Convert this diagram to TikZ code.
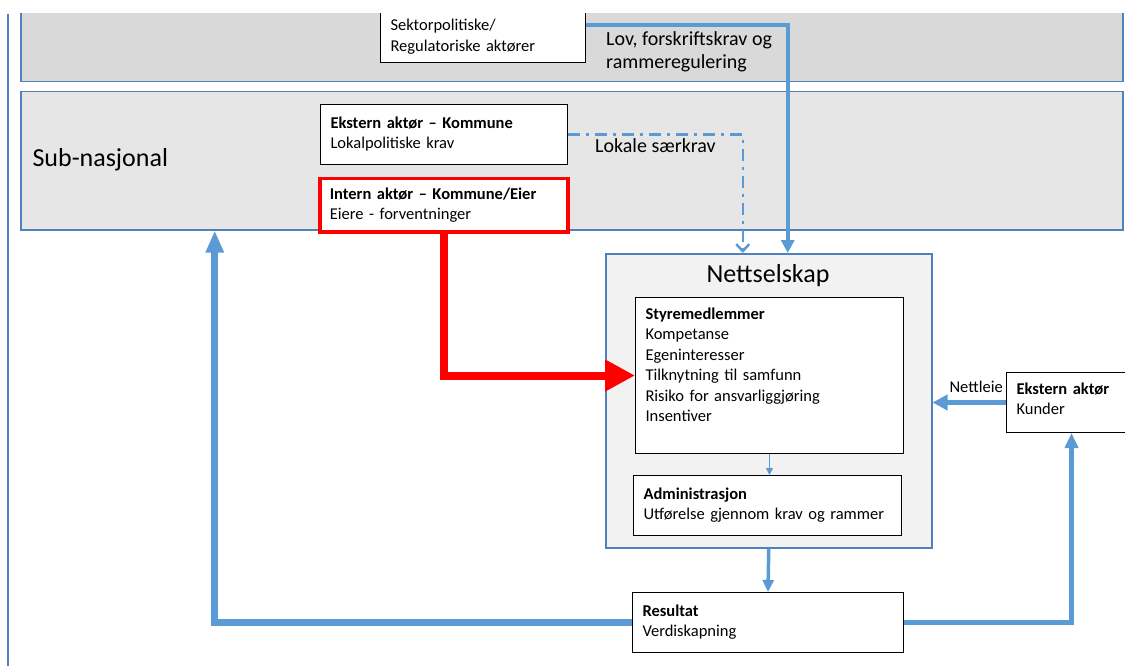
\documentclass[tikz,border=0pt]{standalone}
\usepackage{fontspec}
\setmainfont{Carlito}
\usepackage{tikz}
\usetikzlibrary{arrows.meta}
\definecolor{linjeblaa}{RGB}{91,155,213}
\definecolor{rammeblaa}{RGB}{79,129,189}
\definecolor{nasjgraa}{RGB}{217,217,217}
\definecolor{subgraa}{RGB}{231,230,230}
\definecolor{nettgraa}{RGB}{242,242,242}
\newcommand{\txt}{\fontsize{16.5}{20.5}\selectfont}
\newcommand{\mellom}{\fontsize{20}{23}\selectfont}
\newcommand{\stor}{\fontsize{26}{30}\selectfont}
\tikzstyle{aktor} = [draw=black,fill=white,line width=1pt,anchor=north west,align=left,inner xsep=10pt,inner ysep=3pt,font=\txt]
\tikzstyle{band} = [draw=rammeblaa,line width=1.5pt,anchor=north west,inner sep=0pt]
\tikzstyle{etikett} = [font=\txt,inner sep=3pt,align=left]
\tikzstyle{blaapil} = [draw=linjeblaa,line width=4pt,-{Triangle[length=13pt,width=13pt]}]

\begin{document}
\begin{tikzpicture}[x=1pt,y=-1pt]
        \useasboundingbox (0,0) rectangle (1125,666);
        \clip (0,0) rectangle (1125,666);

        % nivaaer
        \draw[rammeblaa,line width=1.5pt] (8,14) -- (8,666);
        \begin{scope}
          \clip (0,14) rectangle (1125,666);
          \node[band,fill=nasjgraa,minimum width=1102pt,minimum height=76pt] (nasjonal) at (20,5) {};
          \node[aktor,text width=185pt,minimum height=52pt] (sektor) at (380,10) {Sektorpolitiske/\\Regulatoriske aktører};
        \end{scope}
        \node[band,fill=subgraa,minimum width=1102pt,minimum height=138pt] (subnasjonal) at (20,91) {};
        \node[font=\stor,anchor=west] (subtekst) at (29,160) {Sub-nasjonal};

        \node[aktor,text width=227pt,minimum height=60pt] (kommune) at (320,104) {\textbf{Ekstern aktør – Kommune}\\Lokalpolitiske krav\rule[-4pt]{0pt}{0pt}};
        \node[aktor,draw=red,line width=3.5pt,text width=228pt,minimum height=53pt] (intern) at (318,177) {\textbf{Intern aktør – Kommune/Eier}\\Eiere - forventninger};

        % nettselskapet
        \node[band,fill=nettgraa,minimum width=326pt,minimum height=294pt] (nett) at (605,253) {};
        \node[font=\stor] (netttittel) at (768,276) {Nettselskap};
        \node[aktor,text width=248pt,minimum height=156pt] (styre) at (635,297) {\textbf{Styremedlemmer}\\Kompetanse\\Egeninteresser\\Tilknytning til samfunn\\Risiko for ansvarliggjøring\\Insentiver\rule[-22pt]{0pt}{0pt}};
        \node[aktor,text width=248pt,minimum height=60pt] (admin) at (633,475) {\textbf{Administrasjon}\\Utførelse gjennom krav og rammer\rule[-4pt]{0pt}{0pt}};

        \node[aktor,text width=251pt,minimum height=60pt] (resultat) at (632,592) {\textbf{Resultat}\\Verdiskapning\rule[-4pt]{0pt}{0pt}};
        \node[aktor,text width=110pt,minimum height=60pt] (kunder) at (1006,372) {\textbf{Ekstern aktør}\\Kunder\rule[-8pt]{0pt}{0pt}};

        % krav inn
        \draw[blaapil] ([yshift=11pt]sektor.east) -| ([xshift=19pt]nett.north);
        \draw[linjeblaa,line width=2.5pt,dash pattern=on 12pt off 6pt on 3pt off 6pt,-{Straight Barb[length=7pt,width=13pt]}] (kommune.east) -| ([xshift=-26pt]nett.north);
        \draw[red,line width=8pt,-{Triangle[length=30pt,width=30pt]}] (intern.south) |- (styre.west);
        \draw[linjeblaa,line width=1pt,-{Triangle[length=7pt,width=7pt]}] (styre.south) -- (styre.south |- admin.north);

        % resultat ut
        \draw[blaapil,line width=3.5pt,-{Triangle[length=12pt,width=11pt]}] (nett.south) -- (resultat.north);
        \draw[blaapil,line width=7pt,-{Triangle[length=22pt,width=17pt]}] (resultat.west) -| ([xshift=-357pt]subnasjonal.south);
        \draw[blaapil,line width=4.5pt,-{Triangle[length=15pt,width=13pt]}] (resultat.east) -| (kunder.south);
        \draw[blaapil,line width=4.5pt,-{Triangle[length=15pt,width=15pt]}] (kunder.west) -- (nett.east |- kunder.west);

        \node[etikett,font=\mellom,anchor=west] (lov) at (603,52) {Lov, forskriftskrav og\\rammeregulering};
        \node[etikett,font=\mellom,anchor=west] (lokale) at (592,146) {Lokale særkrav};
        \node[etikett,anchor=east] (nettleie) at (1006,387) {Nettleie};

      \end{tikzpicture}
\end{document}
